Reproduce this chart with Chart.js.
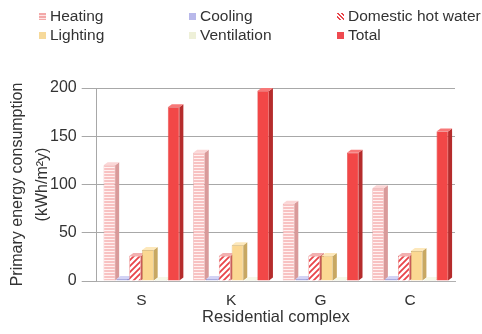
<!DOCTYPE html>
<html>
<head>
<meta charset="utf-8">
<script src="https://cdn.jsdelivr.net/npm/chart.js@4"></script>
<style>
  html, body { margin: 0; padding: 0; background: #fff; }
  #wrap { position: relative; width: 482px; height: 334px; }
  #chart { position: absolute; left: 0; top: 0; }
  .legend { position: absolute; left: 0; top: 0; width: 482px; height: 50px;
            font-family: "Liberation Sans", Arial, sans-serif; font-size: 15.5px; color: #333; }
  .item { position: absolute; display: flex; align-items: center; white-space: nowrap; }
  .box { width: 7px; height: 7px; margin-right: 4px; }
</style>
</head>
<body>
<div id="wrap">
  <canvas id="chart" width="482" height="334"></canvas>
  <div class="legend" id="legend"></div>
</div>
<script>
// Residential complexes and their primary energy use per end use (kWh/m²y)
const categories = ['S', 'K', 'G', 'C'];
const heating = [120, 133, 80, 96];
const cooling = [2, 2, 2, 2];
const domesticHotWater = [26, 26, 26, 26];
const lighting = [32, 37, 26, 31];
const ventilation = [1, 1, 1, 1];
const total = [180, 197, 133, 155];
const yTicks = [0, 50, 100, 150, 200];

// Fill patterns for the striped bars
function stripePattern(bg, fg, draw, w, h) {
  const c = document.createElement('canvas');
  c.width = w; c.height = h;
  const g = c.getContext('2d');
  g.fillStyle = bg; g.fillRect(0, 0, w, h);
  g.strokeStyle = fg; g.fillStyle = fg;
  draw(g);
  return g.createPattern(c, 'repeat');
}
const ctx = document.getElementById('chart').getContext('2d');
const heatingFill = stripePattern('#f8c2c2', '#fff2f2', g => { g.fillRect(0, 2, 4, 1); }, 4, 3);
const dhwFill = stripePattern('#ffffff', '#e8454a', g => {
  g.lineWidth = 1.8;
  g.beginPath();
  g.moveTo(-1, 7); g.lineTo(7, -1);
  g.moveTo(-1, 1); g.lineTo(1, -1);
  g.moveTo(5, 7); g.lineTo(7, 5);
  g.stroke();
}, 6, 6);

const series = [
  { label: 'Heating', data: heating, fill: heatingFill, border: '#e59a9a', side: '#d99a9a', top: '#fbd6d6',
    css: 'repeating-linear-gradient(180deg,#f3a9a9 0 2px,#fde5e5 2px 3px)' },
  { label: 'Cooling', data: cooling, fill: '#b9b9ec', border: '#8a8ad0', side: '#8f8fcf', top: '#d3d3f5',
    css: '#b8b8ea' },
  { label: 'Domestic hot water', data: domesticHotWater, fill: dhwFill, border: '#e46a6a', side: '#c85a5a', top: '#f2b0b0',
    css: 'repeating-linear-gradient(45deg,#ffffff 0 1.5px,#e8454a 1.5px 3px)' },
  { label: 'Lighting', data: lighting, fill: '#fbd892', border: '#c9a860', side: '#c8a862', top: '#fde8bb',
    css: '#f6d99a' },
  { label: 'Ventilation', data: ventilation, fill: '#eef2d6', border: '#c3c8a0', side: '#c6caa8', top: '#f6f8e6',
    css: '#eef0d8' },
  { label: 'Total', data: total, fill: '#f24747', border: '#d83838', side: '#b52c2c', top: '#f77878',
    css: '#ef4a50' }
];

// Simple extruded look: side and top faces behind each bar
const depth = { dx: 4, dy: 3 };
const barDepth = {
  id: 'barDepth',
  beforeDatasetsDraw(chart) {
    const c = chart.ctx;
    chart.data.datasets.forEach((ds, i) => {
      const meta = chart.getDatasetMeta(i);
      meta.data.forEach(bar => {
        const { x, y, base, width } = bar.getProps(['x', 'y', 'base', 'width'], true);
        const l = x - width / 2, r = x + width / 2;
        c.save();
        c.fillStyle = ds.sideColor;
        c.beginPath();
        c.moveTo(r, y); c.lineTo(r + depth.dx, y - depth.dy);
        c.lineTo(r + depth.dx, base - depth.dy); c.lineTo(r, base);
        c.closePath(); c.fill();
        c.fillStyle = ds.topColor;
        c.beginPath();
        c.moveTo(l, y); c.lineTo(l + depth.dx, y - depth.dy);
        c.lineTo(r + depth.dx, y - depth.dy); c.lineTo(r, y);
        c.closePath(); c.fill();
        c.restore();
      });
    });
  }
};

const chart = new Chart(ctx, {
  type: 'bar',
  data: {
    labels: categories,
    datasets: series.map(s => ({
      label: s.label,
      data: s.data,
      backgroundColor: s.fill,
      borderColor: s.border,
      borderWidth: 0.6,
      sideColor: s.side,
      topColor: s.top,
      categoryPercentage: 0.86,
      barPercentage: 0.9
    }))
  },
  options: {
    responsive: false,
    animation: false,
    layout: { padding: { top: 88, right: 27, left: 5, bottom: 8 } },
    plugins: { legend: { display: false }, tooltip: { enabled: false } },
    scales: {
      x: {
        grid: { display: false, drawTicks: false, tickLength: 0 },
        border: { color: '#b0b0b0' },
        ticks: { color: '#333', font: { family: 'Liberation Sans', size: 15.5, lineHeight: 1 }, padding: 12 },
        title: { display: true, text: 'Residential complex', color: '#333',
                 font: { family: 'Liberation Sans', size: 16.5, lineHeight: 1 }, padding: { top: -11, bottom: 0 } }
      },
      y: {
        min: 0, max: 200,
        afterBuildTicks(axis) { axis.ticks = yTicks.map(v => ({ value: v })); },
        grid: { color: '#a8a8a8', lineWidth: 1, drawTicks: true, tickLength: 15, tickColor: '#a8a8a8' },
        border: { color: '#a8a8a8' },
        ticks: { color: '#333', font: { family: 'Liberation Sans', size: 16 }, padding: 5 },
        title: { display: true, text: ['Primary energy consumption', '(kWh/m²y)'], color: '#333',
                 font: { family: 'Liberation Sans', size: 16, lineHeight: 1.5625 }, padding: { top: 0, bottom: -10 } }
      }
    }
  },
  plugins: [barDepth]
});

// Legend in three columns, two rows
const legend = document.getElementById('legend');
const cols = [39, 189, 337];
const rows = [16, 35];
series.forEach((s, i) => {
  const item = document.createElement('div');
  item.className = 'item';
  item.style.left = cols[i % 3] + 'px';
  item.style.top = (rows[Math.floor(i / 3)] - 9) + 'px';
  const box = document.createElement('span');
  box.className = 'box';
  box.style.background = s.css;
  const txt = document.createElement('span');
  txt.textContent = s.label;
  item.appendChild(box); item.appendChild(txt);
  legend.appendChild(item);
});
</script>
</body>
</html>
